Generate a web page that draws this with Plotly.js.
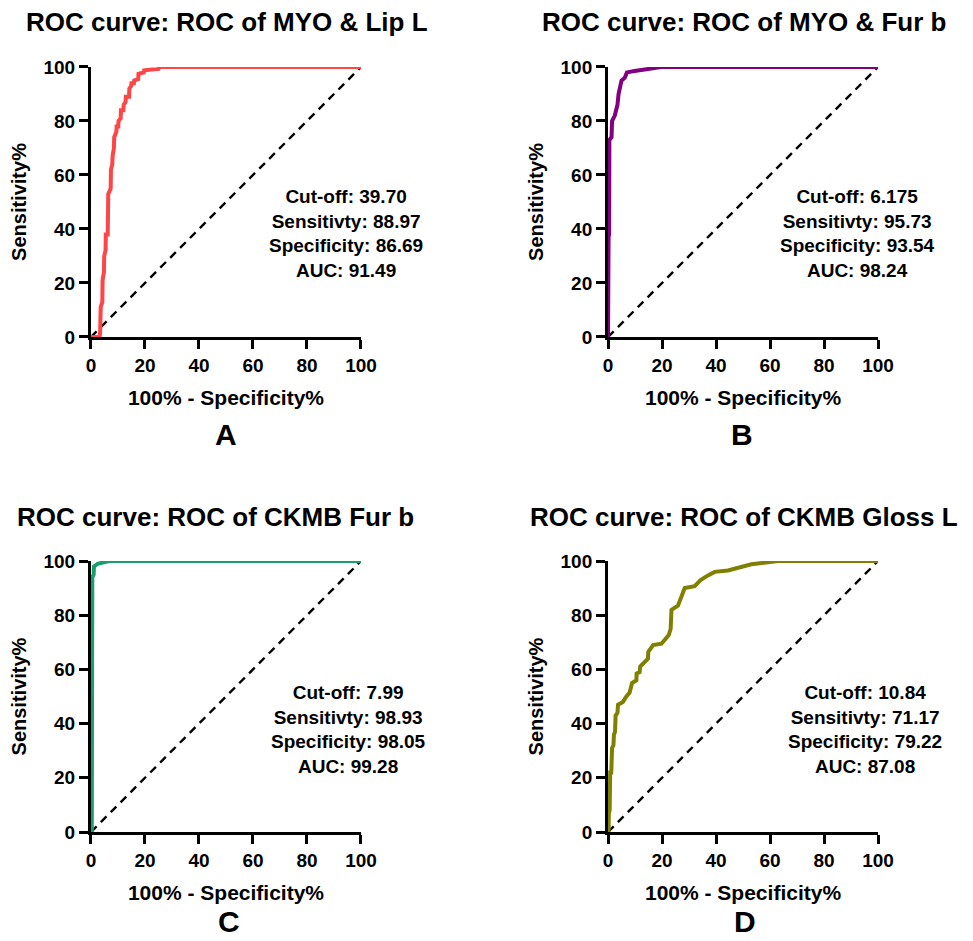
<!DOCTYPE html>
<html>
<head>
<meta charset="utf-8">
<script src="https://cdn.plot.ly/plotly-3.0.1.min.js"></script>
<style>html,body{margin:0;padding:0;background:#fff;}#chart{width:973px;height:941px;}</style>
</head>
<body>
<div id="chart"></div>
<script>
// ---- Data ----
const panelTitles = ["ROC curve: ROC of MYO & Lip L", "ROC curve: ROC of MYO & Fur b", "ROC curve: ROC of CKMB Fur b", "ROC curve: ROC of CKMB Gloss L"];
const panelLetters = ["A", "B", "C", "D"];
const tickVals = [0, 20, 40, 60, 80, 100];
const xTitle = "100% - Specificity%";
const yTitle = "Sensitivity%";

const statsA = ["Cut-off: 39.70", "Sensitivty: 88.97", "Specificity: 86.69", "AUC: 91.49"];
const statsB = ["Cut-off: 6.175", "Sensitivty: 95.73", "Specificity: 93.54", "AUC: 98.24"];
const statsC = ["Cut-off: 7.99", "Sensitivty: 98.93", "Specificity: 98.05", "AUC: 99.28"];
const statsD = ["Cut-off: 10.84", "Sensitivty: 71.17", "Specificity: 79.22", "AUC: 87.08"];

const fprA = [0, 3.2, 3.4, 3.6, 4.2, 4.3, 4.8, 4.9, 5.4, 5.5, 6.2, 6.4, 7.3, 7.4, 7.9, 8.0, 8.5, 8.6, 9.4, 9.5, 10.1, 10.2, 11, 11.1, 12, 12.1, 12.8, 12.9, 14.1, 14.2, 14.9, 15, 15.9, 16, 17.5, 17.6, 19.6, 19.7, 25, 25.2, 100];
const tprA = [0, 0, 2, 11, 13, 21, 24, 30, 32, 38, 38, 53, 55, 62, 64, 67, 70, 74, 76, 78, 78, 80, 81, 84, 84, 86, 87, 89, 89, 92, 93, 94, 94, 95, 95.5, 97.5, 98, 98.8, 99.3, 100, 100];

const fprB = [0, 0, 0.2, 0.2, 0.4, 0.5, 1.3, 1.5, 2.5, 3, 3.5, 3.9, 4.5, 5, 6.2, 7, 9.8, 13.5, 19.7, 100];
const tprB = [0, 15, 16, 37, 38, 73, 74, 80, 82, 84, 86, 90, 94, 95, 96, 98, 98.5, 99, 100, 100];

const fprC = [0, 0.3, 0.4, 0.5, 1, 1.1, 2.5, 6.7, 100];
const tprC = [0, 0, 60, 94, 95, 98, 99, 100, 100];

const fprD = [0, 0.2, 0.3, 0.6, 0.8, 1.2, 1.5, 2, 2.2, 2.6, 2.8, 3.5, 3.7, 5.5, 6.8, 8, 8.9, 10.5, 10.6, 11.7, 11.9, 13.6, 14.8, 14.9, 16.7, 19.8, 21, 22.5, 23.2, 23.5, 25.9, 26.5, 27.4, 28.4, 32.1, 34.3, 37, 39.5, 44.4, 48.1, 53.1, 63, 100];
const tprD = [0, 0, 7, 8, 22, 22, 31, 32, 36, 37, 43, 44, 47, 48, 50, 51.5, 55, 56, 58.5, 59, 61, 62.5, 64, 66.5, 69, 69.5, 71, 72.7, 75, 82, 83.5, 85, 88, 90, 90.7, 93, 94.7, 96, 96.5, 97.5, 98.8, 100, 100];

const refX = [0, 100];
const refY = [0, 100];

// ---- Styles ----
const colors = ["#FF4545", "#800080", "#17A06B", "#808000"];
const FONT = "Liberation Sans, Arial, Helvetica, sans-serif";

const curves = [[fprA, tprA], [fprB, tprB], [fprC, tprC], [fprD, tprD]];
const stats = [statsA, statsB, statsC, statsD];

const xDomains = [[0.0935, 0.371], [0.6249, 0.9024], [0.0935, 0.371], [0.6249, 0.9024]];
const yDomains = [[0.6419, 0.9288], [0.6419, 0.9288], [0.1158, 0.4038], [0.1158, 0.4038]];

const traces = [];
const layout = {
  width: 973, height: 941,
  margin: {l: 0, r: 0, t: 0, b: 0},
  paper_bgcolor: "#fff", plot_bgcolor: "#fff",
  showlegend: false,
  font: {family: FONT, color: "#000"},
  annotations: []
};

const titleCx = [227, 744, 215, 744];
const titleCy = [22, 22, 517, 517];
const letterCx = [226, 742, 229, 745];
const letterCy = [435, 435, 921, 921];
const statCx = [346, 857, 348, 865];
const statCy = [234, 234, 729, 729];

for (let i = 0; i < 4; i++) {
  const s = i === 0 ? "" : String(i + 1);
  traces.push({
    x: refX, y: refY, xaxis: "x" + s, yaxis: "y" + s,
    mode: "lines", line: {color: "#000", width: 2.4, dash: "8px,6px"},
    hoverinfo: "skip", cliponaxis: false
  });
  traces.push({
    x: curves[i][0], y: curves[i][1], xaxis: "x" + s, yaxis: "y" + s,
    mode: "lines", line: {color: colors[i], width: 4},
    cliponaxis: false
  });
  const axCommon = {
    range: [0, 100], tickvals: tickVals, ticktext: tickVals.map(String),
    showgrid: false, zeroline: false, showline: true,
    linecolor: "#000", linewidth: 3,
    ticks: "outside", ticklen: 9, tickwidth: 3, tickcolor: "#000",
    tickfont: {family: FONT, size: 19, color: "#000", weight: "bold"},
    fixedrange: true
  };
  layout["xaxis" + s] = Object.assign({}, axCommon, {
    domain: xDomains[i], anchor: "y" + s,
    title: {text: xTitle, font: {family: FONT, size: 21, color: "#000", weight: "bold"}, standoff: 16}
  });
  layout["yaxis" + s] = Object.assign({}, axCommon, {
    domain: yDomains[i], anchor: "x" + s,
    title: {text: yTitle, font: {family: FONT, size: 20, color: "#000", weight: "bold"}, standoff: 12}
  });
  layout.annotations.push({
    xref: "paper", yref: "paper", x: titleCx[i] / 973, y: 1 - titleCy[i] / 941,
    xanchor: "center", yanchor: "middle", showarrow: false,
    text: "<b>" + panelTitles[i].replace("&", "&amp;") + "</b>",
    font: {family: FONT, size: 26, color: "#000"}
  });
  layout.annotations.push({
    xref: "paper", yref: "paper", x: letterCx[i] / 973, y: 1 - letterCy[i] / 941,
    xanchor: "center", yanchor: "middle", showarrow: false, borderpad: 0,
    text: "<b>" + panelLetters[i] + "</b>",
    font: {family: FONT, size: 30, color: "#000"}
  });
  layout.annotations.push({
    xref: "paper", yref: "paper", x: statCx[i] / 973, y: 1 - statCy[i] / 941,
    xanchor: "center", yanchor: "middle", align: "center", showarrow: false,
    text: "<b>" + stats[i].join("<br>") + "</b>",
    font: {family: FONT, size: 19, color: "#000"}
  });
}

Plotly.newPlot("chart", traces, layout, {displayModeBar: false, staticPlot: true});
</script>
</body>
</html>
